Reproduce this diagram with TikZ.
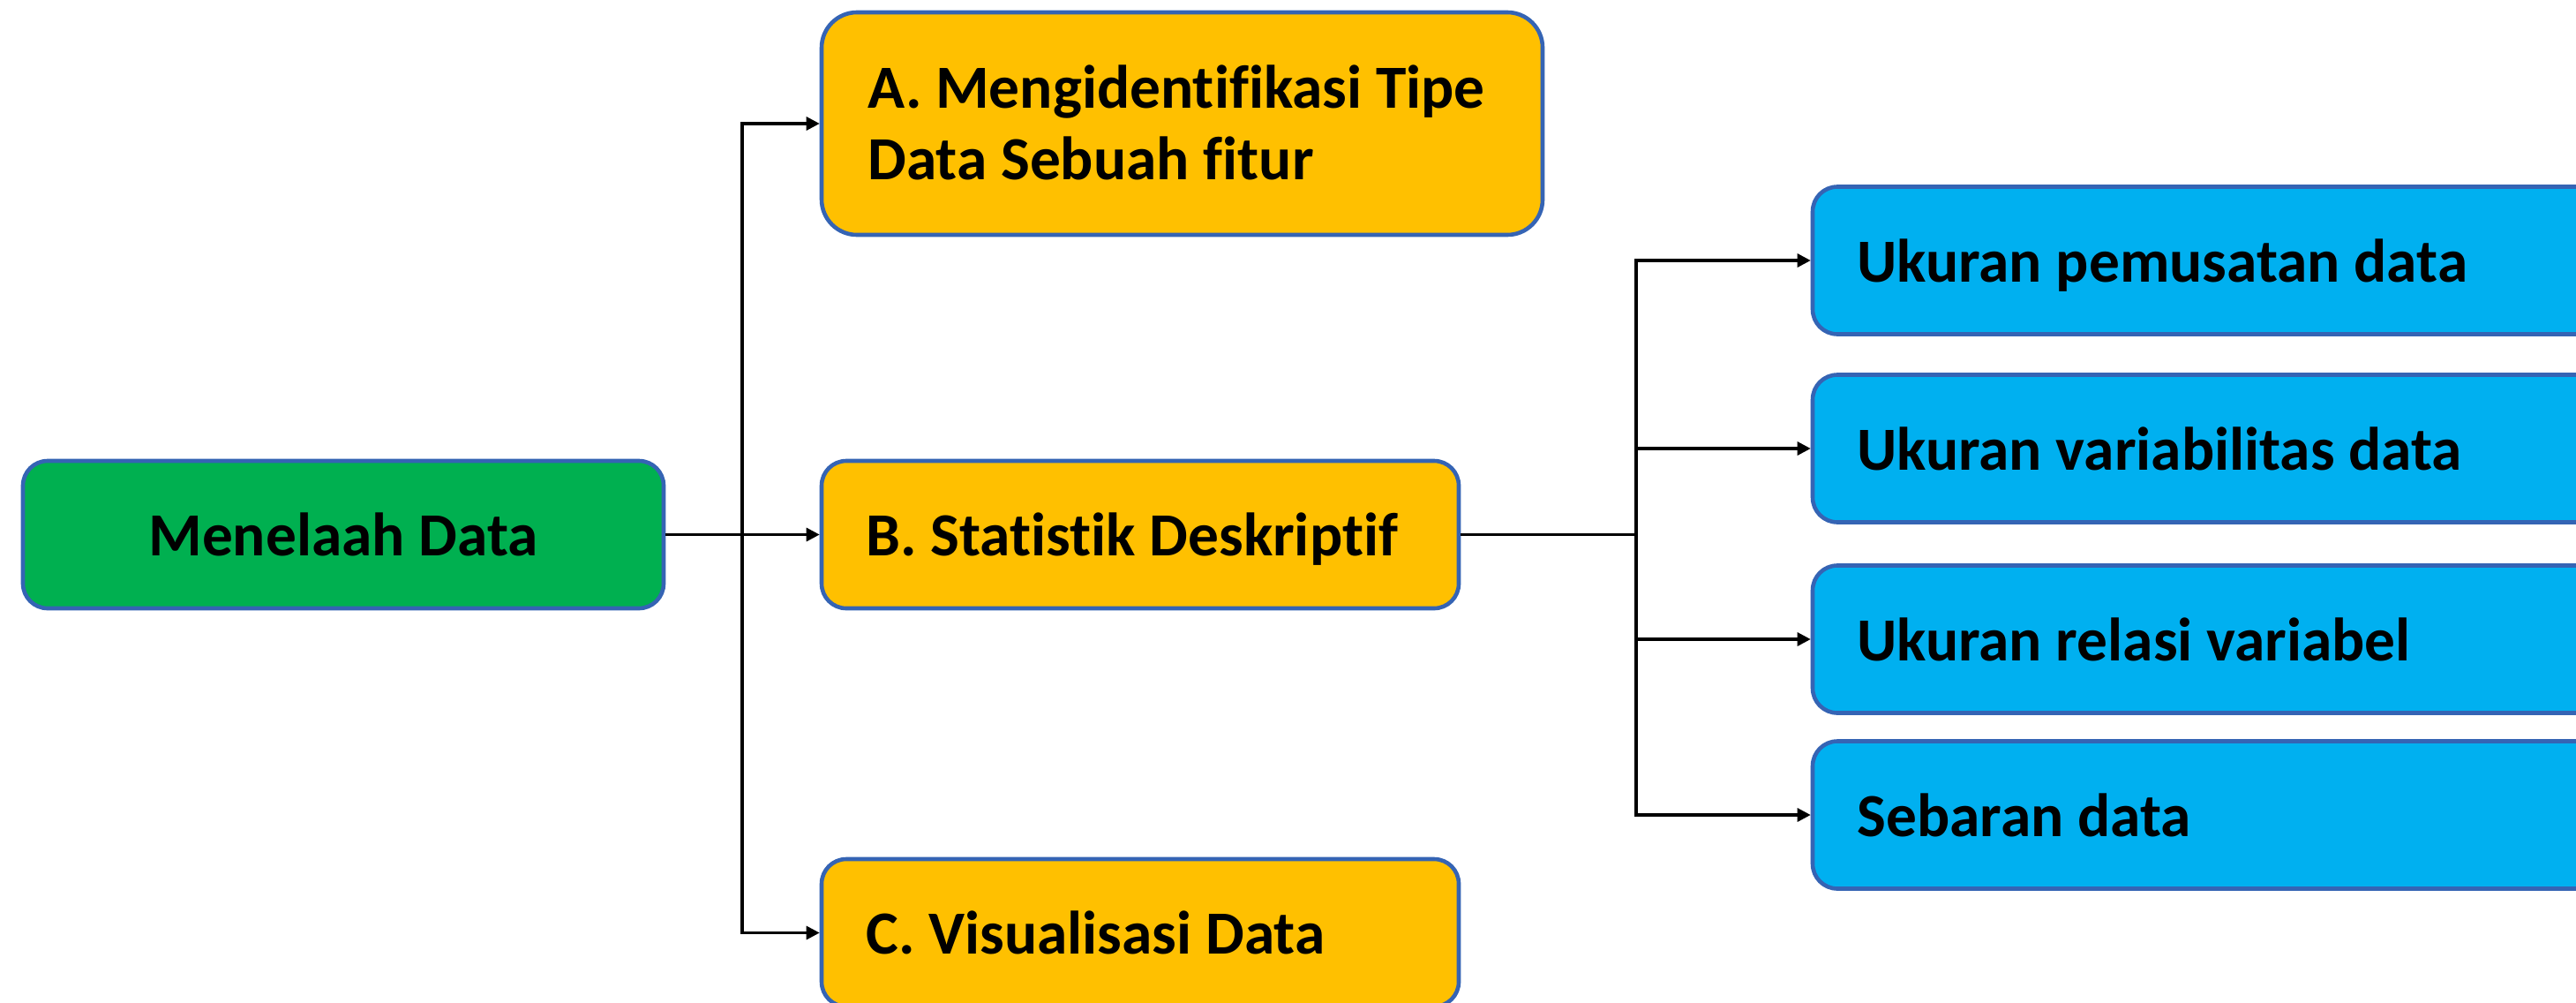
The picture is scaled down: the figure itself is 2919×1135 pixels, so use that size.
\documentclass[tikz,border=0pt]{standalone}
\usepackage{fontspec}
\setmainfont{Carlito}[Ligatures=NoCommon]
\usetikzlibrary{arrows.meta}
\definecolor{boxgreen}{HTML}{00B050}
\definecolor{boxyellow}{HTML}{FFC000}
\definecolor{boxblue}{HTML}{00B0F0}
\definecolor{edgeblue}{HTML}{3564B4}
\tikzset{
  box/.style={draw=edgeblue, line width=1.15pt, rounded corners=7pt, inner sep=0pt, minimum height=41.75pt},
  greenbox/.style={box, fill=boxgreen},
  yellowbox/.style={box, fill=boxyellow},
  bluebox/.style={box, fill=boxblue, minimum width=234pt},
  lbl/.style={inner sep=0pt, font=\fontsize{17.35pt}{20.5pt}\selectfont\bfseries, text=black},
  conn/.style={line width=0.8pt, draw=black},
  arr/.style={conn, -{Triangle[length=3.75pt,width=3.75pt]}}
}
\begin{document}
\begin{tikzpicture}[x=0.25pt, y=-0.25pt]
\useasboundingbox (0,0) rectangle (2919,1135);
\clip (0,0) rectangle (2919,1135);
\fill[white] (0,0) rectangle (2919,1135);
% boxes
\node[greenbox, minimum width=181.5pt] (M) at (389,605.5) {};
\node[yellowbox, minimum width=204.25pt, minimum height=63pt, rounded corners=10pt] (A) at (1339.5,140) {};
\node[yellowbox, minimum width=180.5pt] (B) at (1292,605.5) {};
\node[yellowbox, minimum width=180.5pt] (C) at (1292,1056.5) {};
\node[bluebox] (U1) at (2522,295) {};
\node[bluebox] (U2) at (2522,508) {};
\node[bluebox] (U3) at (2522,724) {};
\node[bluebox] (U4) at (2522,923) {};
% texts
\node[lbl, anchor=base] (tM) at ([shift={(0,24)}]M.center) {Menelaah Data};
\node[lbl, anchor=base west] (tA) at ([shift={(54,-18)}]A.west) {\parbox[t]{200pt}{\raggedright A. Mengidentifikasi Tipe\\Data Sebuah fitur}};
\node[lbl, anchor=base west] (tB) at ([shift={(52,24)}]B.west) {B. Statistik Deskriptif};
\node[lbl, anchor=base west] (tC) at ([shift={(52,24)}]C.west) {C. Visualisasi Data};
\node[lbl, anchor=base west] (tU1) at ([shift={(52,24)}]U1.west) {Ukuran pemusatan data};
\node[lbl, anchor=base west] (tU2) at ([shift={(52,24)}]U2.west) {Ukuran variabilitas data};
\node[lbl, anchor=base west] (tU3) at ([shift={(52,24)}]U3.west) {Ukuran relasi variabel};
\node[lbl, anchor=base west] (tU4) at ([shift={(52,24)}]U4.west) {Sebaran data};
% junctions
\coordinate (j1) at (841,605.5);
\coordinate (j2) at (1854,605.5);
% connectors
\draw[arr] (M.east) -- (j1) |- (A.west);
\draw[arr] (M.east) -- (B.west);
\draw[arr] (M.east) -- (j1) |- (C.west);
\draw[arr] (B.east) -- (j2) |- (U1.west);
\draw[arr] (B.east) -- (j2) |- (U2.west);
\draw[arr] (B.east) -- (j2) |- (U3.west);
\draw[arr] (B.east) -- (j2) |- (U4.west);
\end{tikzpicture}
\end{document}
